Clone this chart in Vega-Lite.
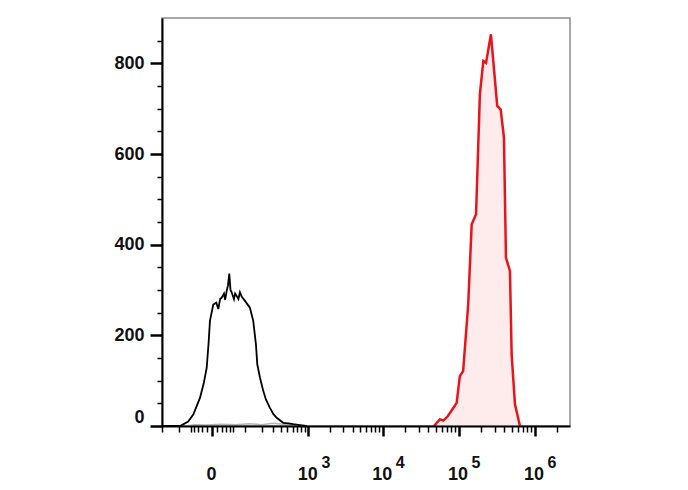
{
  "$schema": "https://vega.github.io/schema/vega-lite/v6.json",
  "width": 408,
  "height": 408,
  "autosize": {"type": "none"},
  "padding": {"left": 162, "top": 18, "right": 118, "bottom": 64},
  "background": "white",
  "config": {
    "view": {"stroke": "#8a8a8a", "strokeWidth": 1.5},
    "axis": {
      "grid": false,
      "title": null,
      "labelFont": "Liberation Sans",
      "labelFontWeight": "bold",
      "labelFontSize": 18,
      "labelColor": "#111111",
      "domainColor": "#000000",
      "tickColor": "#000000",
      "labelOverlap": false,
      "labelFlush": false,
      "labelBound": false
    }
  },
  "data": {
    "values": [
      {"series": "gray", "x": -70, "count": 0},
      {"series": "gray", "x": -40, "count": 3},
      {"series": "gray", "x": -10, "count": 2},
      {"series": "gray", "x": 20, "count": 4},
      {"series": "gray", "x": 60, "count": 3},
      {"series": "gray", "x": 120, "count": 5},
      {"series": "gray", "x": 200, "count": 3},
      {"series": "gray", "x": 300, "count": 6},
      {"series": "gray", "x": 450, "count": 4},
      {"series": "gray", "x": 650, "count": 2},
      {"series": "gray", "x": 900, "count": 0},

      {"series": "black", "x": -200, "count": 0},
      {"series": "black", "x": -93, "count": 0},
      {"series": "black", "x": -60, "count": 10},
      {"series": "black", "x": -43, "count": 26},
      {"series": "black", "x": -25, "count": 62},
      {"series": "black", "x": -16, "count": 95},
      {"series": "black", "x": -9.9, "count": 128},
      {"series": "black", "x": -6, "count": 185},
      {"series": "black", "x": -3.6, "count": 232},
      {"series": "black", "x": 2.3, "count": 268},
      {"series": "black", "x": 8, "count": 272},
      {"series": "black", "x": 12, "count": 258},
      {"series": "black", "x": 16, "count": 280},
      {"series": "black", "x": 19.5, "count": 283},
      {"series": "black", "x": 25, "count": 292},
      {"series": "black", "x": 28, "count": 278},
      {"series": "black", "x": 32, "count": 298},
      {"series": "black", "x": 35.6, "count": 310},
      {"series": "black", "x": 39.3, "count": 336},
      {"series": "black", "x": 42.9, "count": 300},
      {"series": "black", "x": 46.5, "count": 295},
      {"series": "black", "x": 54, "count": 280},
      {"series": "black", "x": 58, "count": 292},
      {"series": "black", "x": 63.4, "count": 287},
      {"series": "black", "x": 70, "count": 280},
      {"series": "black", "x": 76, "count": 295},
      {"series": "black", "x": 84, "count": 285},
      {"series": "black", "x": 98, "count": 276},
      {"series": "black", "x": 123, "count": 261},
      {"series": "black", "x": 142, "count": 232},
      {"series": "black", "x": 159, "count": 180},
      {"series": "black", "x": 168, "count": 136},
      {"series": "black", "x": 187, "count": 107},
      {"series": "black", "x": 213, "count": 77},
      {"series": "black", "x": 236, "count": 58},
      {"series": "black", "x": 273, "count": 40},
      {"series": "black", "x": 310, "count": 26},
      {"series": "black", "x": 348, "count": 18},
      {"series": "black", "x": 437, "count": 7},
      {"series": "black", "x": 520, "count": 6},
      {"series": "black", "x": 612, "count": 4},
      {"series": "black", "x": 763, "count": 2},
      {"series": "black", "x": 947, "count": 0},

      {"series": "red", "x": 47500, "count": 0},
      {"series": "red", "x": 57000, "count": 15},
      {"series": "red", "x": 63000, "count": 12},
      {"series": "red", "x": 72500, "count": 22},
      {"series": "red", "x": 94500, "count": 51},
      {"series": "red", "x": 104000, "count": 110},
      {"series": "red", "x": 115000, "count": 121},
      {"series": "red", "x": 134000, "count": 268},
      {"series": "red", "x": 149000, "count": 445},
      {"series": "red", "x": 170000, "count": 467},
      {"series": "red", "x": 191000, "count": 732},
      {"series": "red", "x": 212000, "count": 805},
      {"series": "red", "x": 230000, "count": 801},
      {"series": "red", "x": 267000, "count": 864},
      {"series": "red", "x": 323000, "count": 706},
      {"series": "red", "x": 359000, "count": 698},
      {"series": "red", "x": 396000, "count": 636},
      {"series": "red", "x": 421000, "count": 371},
      {"series": "red", "x": 475000, "count": 342},
      {"series": "red", "x": 500000, "count": 158},
      {"series": "red", "x": 553000, "count": 48},
      {"series": "red", "x": 643000, "count": 0}
    ]
  },
  "layer": [
    {
      "transform": [{"filter": "datum.series === 'gray'"}],
      "mark": {"type": "line", "color": "#b5b5b5", "strokeWidth": 1.5},
      "encoding": {
        "x": {
          "field": "x", "type": "quantitative",
          "scale": {"type": "symlog", "constant": 57, "domain": [-202, 2930000], "nice": false, "zero": false},
          "axis": {
            "orient": "bottom",
            "values": [0, 1000, 10000, 100000, 1000000],
            "labelExpr": "datum.value == 0 ? '0' : '10'",
            "tickSize": 10,
            "tickWidth": 2.5,
            "domainWidth": 2,
            "labelPadding": 29,
            "labelOffset": -1,
            "zindex": 1
          }
        },
        "y": {
          "field": "count", "type": "quantitative",
          "scale": {"domain": [0, 900], "nice": false},
          "axis": {
            "orient": "left",
            "values": [0, 200, 400, 600, 800],
            "tickSize": 12,
            "tickWidth": 2.5,
            "domainWidth": 2,
            "labelPadding": 6,
            "labelFlush": true,
            "zindex": 1
          }
        }
      }
    },
    {
      "transform": [{"filter": "datum.series === 'black'"}],
      "mark": {"type": "line", "color": "#000000", "strokeWidth": 1.8},
      "encoding": {
        "x": {
          "field": "x", "type": "quantitative",
          "axis": {
            "orient": "bottom",
            "values": [-200, -100, -50, -40, -30, -20, -10, 10, 20, 30, 40, 50, 100, 200, 300, 400, 500, 600, 700, 800, 900, 2000, 3000, 4000, 5000, 6000, 7000, 8000, 9000, 20000, 30000, 40000, 50000, 60000, 70000, 80000, 90000, 200000, 300000, 400000, 500000, 600000, 700000, 800000, 900000, 2000000],
            "labels": false,
            "domain": false,
            "tickSize": 6,
            "tickWidth": 1.5,
            "zindex": 1
          }
        },
        "y": {
          "field": "count", "type": "quantitative",
          "axis": {
            "orient": "left",
            "values": [50, 100, 150, 250, 300, 350, 450, 500, 550, 650, 700, 750, 850],
            "labels": false,
            "domain": false,
            "tickSize": 5,
            "tickWidth": 1.5,
            "zindex": 1
          }
        }
      }
    },
    {
      "transform": [{"filter": "datum.series === 'red'"}],
      "mark": {"type": "area", "color": "#fde3e4", "line": {"color": "#e8141c", "strokeWidth": 2.5}},
      "encoding": {
        "x": {
          "field": "x", "type": "quantitative",
          "axis": {
            "orient": "bottom",
            "values": [1000, 10000, 100000, 1000000],
            "labelExpr": "format(log(datum.value)/log(10), '.0f')",
            "ticks": false,
            "domain": false,
            "labelFontSize": 16,
            "labelPadding": 28,
            "labelOffset": 17,
            "zindex": 1
          }
        },
        "y": {"field": "count", "type": "quantitative", "axis": null}
      }
    }
  ],
  "resolve": {"axis": {"x": "independent", "y": "independent"}}
}
